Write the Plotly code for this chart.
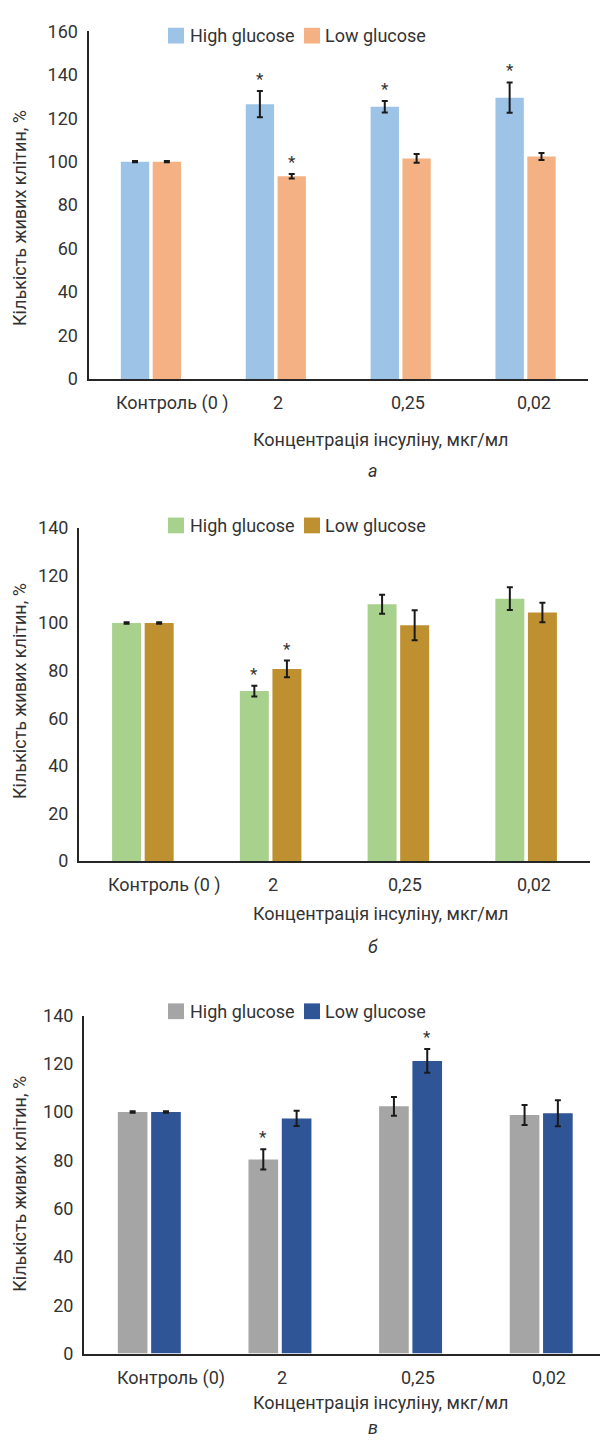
import plotly.graph_objects as go

# ---------------- data ----------------
categories_ab = ["Контроль (0 )", "2", "0,25", "0,02"]
categories_c = ["Контроль (0)", "2", "0,25", "0,02"]
series_names = ["High glucose", "Low glucose"]

a_high = [100, 126.5, 125.3, 129.5]
a_high_err = [0.3, 6.0, 2.7, 7.0]
a_low = [100, 93.3, 101.5, 102.4]
a_low_err = [0.3, 1.0, 2.0, 1.6]
a_high_sig = [False, True, True, True]
a_low_sig = [False, True, False, False]

b_high = [100, 71.4, 107.9, 110.2]
b_high_err = [0.3, 2.3, 4.0, 4.8]
b_low = [100, 80.7, 99.0, 104.4]
b_low_err = [0.3, 3.5, 6.3, 4.1]
b_high_sig = [False, True, False, False]
b_low_sig = [False, True, False, False]

c_high = [100, 80.4, 102.4, 98.8]
c_high_err = [0.3, 4.2, 3.9, 4.1]
c_low = [100, 97.4, 121.2, 99.5]
c_low_err = [0.3, 3.2, 4.9, 5.4]
c_high_sig = [False, True, False, False]
c_low_sig = [False, False, True, False]

y_ticks_a = [0, 20, 40, 60, 80, 100, 120, 140, 160]
y_ticks_bc = [0, 20, 40, 60, 80, 100, 120, 140]

y_title = "Кількість живих клітин, %"
x_title = "Концентрація інсуліну, мкг/мл"
panel_letters = ["а", "б", "в"]

# ---------------- style ----------------
W, H = 600, 1448
FONT = "Roboto, Liberation Sans, sans-serif"
FS = 18
TXT = "#333333"
AX = "#262626"
BARGAP = 0.49
GROUPGAP = 0.11


def px_x(p):
    return p / W


def px_y(p):
    return 1 - p / H


panels = [
    dict(cats=categories_ab, hi=a_high, hie=a_high_err, lo=a_low, loe=a_low_err,
         his=a_high_sig, los=a_low_sig, colors=("#9DC3E6", "#F4B183"),
         xdom=(88.5, 588), ydom=(373.3, 20.7), yr=160, yt=y_ticks_a, xr=3.5,
         leg_y=25, xt_y=435, let_y=466, yt_y=210),
    dict(cats=categories_ab, hi=b_high, hie=b_high_err, lo=b_low, loe=b_low_err,
         his=b_high_sig, los=b_low_sig, colors=("#A9D18E", "#BF9030"),
         xdom=(79, 590), ydom=(862.7, 524.3), yr=140, yt=y_ticks_bc, xr=3.5,
         leg_y=522, xt_y=916, let_y=949, yt_y=690),
    dict(cats=categories_c, hi=c_high, hie=c_high_err, lo=c_low, loe=c_low_err,
         his=c_high_sig, los=c_low_sig, colors=("#A5A5A5", "#2F5597"),
         xdom=(84, 600), ydom=(1362.3, 1019.3), yr=140, yt=y_ticks_bc, xr=3.45,
         leg_y=1015, xt_y=1412, let_y=1437, yt_y=1190),
]

fig = go.Figure()
annotations = []
shapes = []
layout = {}
lab_shift = [22, 2, 7, 8]

for k, p in enumerate(panels):
    sx = "" if k == 0 else str(k + 1)
    xa, ya = "x" + sx, "y" + sx
    for name, vals, errs, col in [
        (series_names[0], p["hi"], p["hie"], p["colors"][0]),
        (series_names[1], p["lo"], p["loe"], p["colors"][1]),
    ]:
        fig.add_trace(go.Bar(
            x=p["cats"], y=vals, name=name, xaxis=xa, yaxis=ya,
            marker=dict(color=col, line=dict(width=0)),
            error_y=dict(type="data", array=errs, visible=True,
                         color="#1a1a1a", thickness=2, width=3),
            showlegend=False,
        ))
    layout["xaxis" + sx] = dict(
        domain=[px_x(p["xdom"][0]), px_x(p["xdom"][1])], anchor=ya,
        type="category", range=[-0.5, p["xr"]],
        showline=True, linecolor=AX, linewidth=2, showgrid=False,
        ticks="", showticklabels=False, fixedrange=True,
    )
    layout["yaxis" + sx] = dict(
        domain=[px_y(p["ydom"][0]), px_y(p["ydom"][1])], anchor=xa,
        range=[0, p["yr"]], tickvals=p["yt"],
        showline=True, linecolor=AX, linewidth=2, showgrid=False, zeroline=False,
        ticks="outside", ticklen=5, tickcolor="rgba(0,0,0,0)",
        tickfont=dict(family=FONT, size=FS, color=TXT), fixedrange=True,
    )
    # category labels
    for i, c in enumerate(p["cats"]):
        annotations.append(dict(
            x=i, y=0, xref=xa, yref=ya, text=c, showarrow=False,
            xanchor="center", yanchor="top", yshift=-11, xshift=lab_shift[i],
            font=dict(family=FONT, size=FS, color=TXT)))
    # significance stars
    slot = (1 - BARGAP) / 2
    for i in range(4):
        for vals, errs, sig, off in [(p["hi"], p["hie"], p["his"], -slot / 2),
                                     (p["lo"], p["loe"], p["los"], slot / 2)]:
            if sig[i]:
                annotations.append(dict(
                    x=i + off, y=vals[i] + errs[i], xref=xa, yref=ya, text="*",
                    showarrow=False, xanchor="center", yanchor="middle", yshift=12,
                    font=dict(family=FONT, size=17, color=TXT)))
    # legend (drawn)
    for j, (nm, col, x0, tx) in enumerate([
        (series_names[0], p["colors"][0], 168, 188),
        (series_names[1], p["colors"][1], 304, 323),
    ]):
        shapes.append(dict(type="rect", xref="paper", yref="paper",
                           x0=px_x(x0), x1=px_x(x0 + 16),
                           y0=px_y(p["leg_y"] + 8), y1=px_y(p["leg_y"] - 8),
                           fillcolor=col, line=dict(width=0)))
        annotations.append(dict(x=px_x(tx), y=px_y(p["leg_y"]), xref="paper", yref="paper",
                                text=nm, showarrow=False, xanchor="left", yanchor="middle",
                                font=dict(family=FONT, size=FS, color=TXT)))
    # axis titles
    annotations.append(dict(x=px_x(380), y=px_y(p["xt_y"]), xref="paper", yref="paper",
                            text=x_title, showarrow=False, xanchor="center", yanchor="middle",
                            font=dict(family=FONT, size=FS, color=TXT)))
    annotations.append(dict(x=px_x(20), y=px_y(p["yt_y"]), xref="paper", yref="paper",
                            text=y_title, showarrow=False, textangle=-90,
                            xanchor="center", yanchor="middle",
                            font=dict(family=FONT, size=FS, color=TXT)))
    annotations.append(dict(x=px_x(373), y=px_y(p["let_y"]), xref="paper", yref="paper",
                            text="<i>" + panel_letters[k] + "</i>", showarrow=False,
                            xanchor="center", yanchor="middle",
                            font=dict(family=FONT, size=FS, color=TXT)))

fig.update_layout(
    width=W, height=H, margin=dict(l=0, r=0, t=0, b=0),
    paper_bgcolor="white", plot_bgcolor="white",
    barmode="group", bargap=BARGAP, bargroupgap=GROUPGAP,
    showlegend=False, annotations=annotations, shapes=shapes,
    font=dict(family=FONT, color=TXT), hovermode=False,
    **layout,
)
fig.write_html(
    "out.html",
    config={"displayModeBar": False, "staticPlot": True},
    post_script="document.body.style.margin='0';document.documentElement.style.overflow='hidden';",
)
